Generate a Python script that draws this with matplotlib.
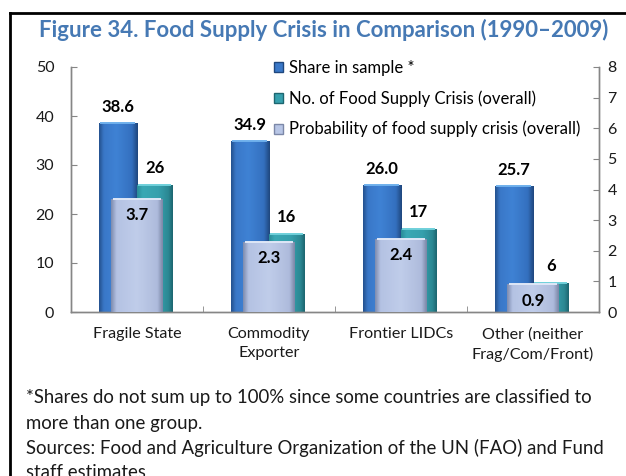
import numpy as np
import matplotlib
matplotlib.use("Agg")
import matplotlib.pyplot as plt
from matplotlib.colors import LinearSegmentedColormap
from matplotlib.patches import Patch
from matplotlib.lines import Line2D

categories = ["Fragile State", "Commodity\nExporter", "Frontier LIDCs",
              "Other (neither\nFrag/Com/Front)"]
share = [38.6, 34.9, 26.0, 25.7]
crises = [26, 16, 17, 6]
prob = [3.7, 2.3, 2.4, 0.9]
series_names = ["Share in sample *",
                "No. of Food Supply Crisis (overall)",
                "Probability of food supply crisis (overall)"]

plt.rcParams["font.family"] = ["Lato", "DejaVu Sans"]

W, H = 626, 476
fig = plt.figure(figsize=(W / 100, H / 100), dpi=100)


def fx(px):
    return px / W


def fy(py):
    return 1 - py / H


ax = fig.add_axes([fx(71), fy(312), fx(599) - fx(71), fy(67) - fy(312)])
ax2 = ax.twinx()

# gradient colour ramps for the bevelled bars
blue_cm = LinearSegmentedColormap.from_list(
    "b", [(0, "#24528f"), (0.12, "#3a78c8"), (0.45, "#3f82d4"),
          (0.85, "#3470bf"), (1, "#1f477e")])
teal_cm = LinearSegmentedColormap.from_list(
    "t", [(0, "#2a8e99"), (0.15, "#3aa8b4"), (0.6, "#36a0ad"),
          (0.88, "#2b8893"), (1, "#1d6670")])
prob_cm = LinearSegmentedColormap.from_list(
    "p", [(0, "#7f8db0"), (0.1, "#b4c2e3"), (0.5, "#c0cdea"),
          (0.9, "#aebbdc"), (1, "#7c88a8")])
grad = np.linspace(0, 1, 64).reshape(1, -1)


def shaded(axis, xs, heights, width, cmap, top_color, z):
    bars = axis.bar(xs, heights, width, align="edge", color="none",
                    edgecolor="none", zorder=z)
    for r in bars:
        x0, w, h = r.get_x(), r.get_width(), r.get_height()
        im = axis.imshow(grad, cmap=cmap, extent=(x0, x0 + w, 0, h),
                         aspect="auto", interpolation="bicubic", zorder=z)
        im.set_clip_path(r)
        axis.plot([x0 + w * 0.04, x0 + w * 0.96], [h, h], color=top_color,
                  lw=1.4, zorder=z + 0.1, solid_capstyle="butt")
    return bars


x = np.arange(len(categories))
shaded(ax, x - 0.29, share, 0.29, blue_cm, "#6fb0ec", 2)
shaded(ax, x, crises, 0.27, teal_cm, "#6fd0da", 2)
shaded(ax2, x - 0.195, prob, 0.39, prob_cm, "#dfe7f7", 3)

lab_kw = dict(textcoords="offset points", ha="center", va="center",
              fontsize=12, fontweight="bold", color="black")
for i in range(len(categories)):
    ax.annotate(f"{share[i]:.1f}", (x[i] - 0.145, share[i]), xytext=(0, 11.5),
                **lab_kw)
    ax.annotate(f"{crises[i]}", (x[i] + 0.135, crises[i]), xytext=(0, 12),
                **lab_kw)
    ax2.annotate(f"{prob[i]:.1f}", (x[i], prob[i]), xytext=(0, -12),
                 zorder=5, **lab_kw)

ax.set_xlim(-0.5, len(categories) - 0.5)
ax.set_ylim(0, 50)
ax2.set_ylim(0, 8)
ax.set_yticks(range(0, 51, 10))
ax2.set_yticks(range(0, 9))

grey = "#868686"
for a in (ax, ax2):
    for s in a.spines.values():
        s.set_color(grey)
        s.set_linewidth(1)
    a.spines["top"].set_visible(False)
    a.tick_params(axis="y", direction="in", length=4.5, color=grey,
                  labelsize=11.5, labelcolor="#1a1a1a")
ax.tick_params(axis="y", pad=12)
ax2.tick_params(axis="y", pad=6)

ax.set_xticks(x)
ax.set_xticklabels(categories, fontsize=11.6, color="#1a1a1a", linespacing=1.45)
ax.tick_params(axis="x", length=0, pad=11)
ax.set_xticks(x[:-1] + 0.5, minor=True)
ax.tick_params(axis="x", which="minor", direction="in", length=4.5, color=grey)

handles = [Patch(facecolor="#3a78c8", edgecolor="#1f477e"),
           Patch(facecolor="#36a0ad", edgecolor="#1d6670"),
           Patch(facecolor="#b8c6e6", edgecolor="#7c88a8")]
fig.legend(handles, series_names, loc="upper left",
           bbox_to_anchor=(fx(274), fy(60)), frameon=False, fontsize=12,
           handlelength=0.55, handleheight=0.55, handletextpad=0.35,
           labelspacing=0.85, borderpad=0, borderaxespad=0)

fig.text(fx(324), fy(30), "Figure 34. Food Supply Crisis in Comparison (1990\u20132009)",
         ha="center", va="center", fontsize=16, fontweight="bold",
         color="#4679b4")

notes = ["*Shares do not sum up to 100% since some countries are classified to",
         "more than one group.",
         "Sources: Food and Agriculture Organization of the UN (FAO) and Fund",
         "staff estimates"]
for k, line in enumerate(notes):
    fig.text(fx(26), fy(398 + 25 * k), line, ha="left", va="center",
             fontsize=13.4, color="#1a1a1a")

# frame around the figure panel
fig.add_artist(Line2D([fx(10), fx(10)], [fy(13), 0], color="black", lw=2))
fig.add_artist(Line2D([fx(10), 1], [fy(13), fy(13)], color="black", lw=2))

fig.savefig("out.png", dpi=100)
